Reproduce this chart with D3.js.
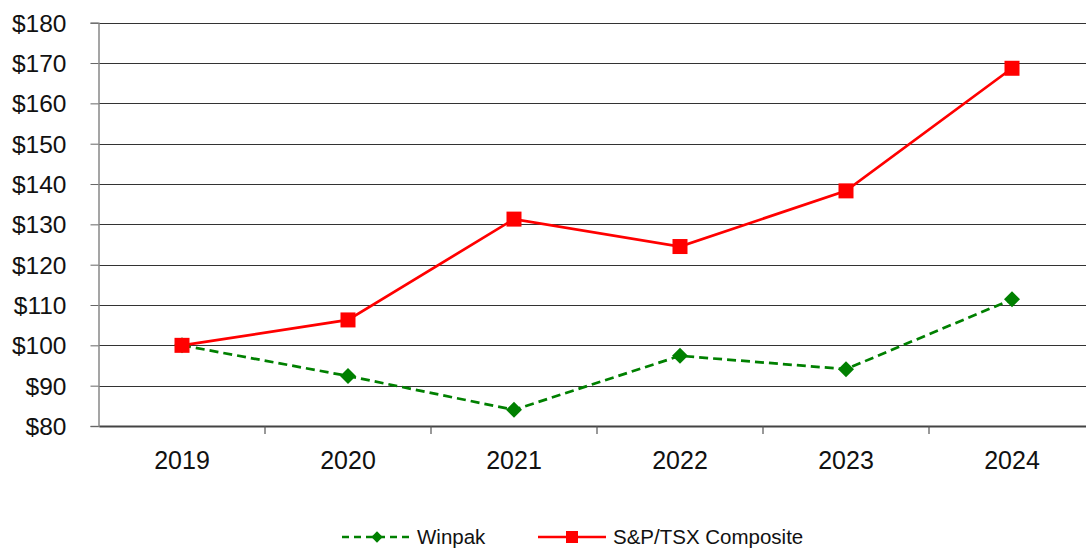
<!DOCTYPE html>
<html><head><meta charset="utf-8">
<script src="https://cdn.jsdelivr.net/npm/d3@7"></script>
<style>body{margin:0;background:#fff}svg{display:block;font-family:"Liberation Sans",Arial,sans-serif}</style>
</head><body><svg id="c" width="1086" height="548"></svg>
<script>
const years = ["2019","2020","2021","2022","2023","2024"];
const winpak = [100, 92.4, 84.0, 97.4, 94.1, 111.4];
const tsx = [100, 106.3, 131.3, 124.5, 138.3, 168.7];
const yTicks = [80,90,100,110,120,130,140,150,160,170,180];
const seriesNames = ["Winpak","S&P/TSX Composite"];

const svg = d3.select("#c");
const x = d3.scaleBand().domain(years).range([99, 1095]);
const y = d3.scaleLinear().domain([80,180]).range([426, 22.7]);

// gridlines
svg.append("g").selectAll("line").data(yTicks.slice(1)).join("line")
  .attr("x1", 99).attr("x2", 1086).attr("y1", d=>Math.round(y(d))+0.5).attr("y2", d=>Math.round(y(d))+0.5)
  .attr("stroke","#333").attr("stroke-width",1);

// y axis
const ya = svg.append("g").attr("transform","translate(98.5,0)")
  .call(d3.axisLeft(y).tickValues(yTicks).tickSize(8).tickFormat(d=>"$"+d));
ya.select(".domain").attr("stroke","#888").attr("stroke-width",1.5);
ya.selectAll(".tick line").attr("stroke","#666");
ya.selectAll(".tick text").attr("font-size",24.5).attr("fill","#111").attr("x",-32).attr("dy","0.35em");

// x axis
const xa = svg.append("g").attr("transform","translate(0,426)")
  .call(d3.axisBottom(x).tickSize(0));
xa.select(".domain").attr("stroke","#444").attr("stroke-width",2);
xa.selectAll(".tick text").attr("font-size",25).attr("fill","#111").attr("dy","0").attr("y",43);
svg.append("g").selectAll("line").data(years.slice(1)).join("line")
  .attr("x1",d=>x(d)).attr("x2",d=>x(d)).attr("y1",426).attr("y2",434)
  .attr("stroke","#555").attr("stroke-width",1.2);

const cx = d => x(d) + x.bandwidth()/2;
const line = d3.line().x((d,i)=>cx(years[i])).y(d=>y(d));

svg.append("path").datum(winpak).attr("d",line).attr("fill","none")
  .attr("stroke","#008000").attr("stroke-width",2.7).attr("stroke-dasharray","9,5");
svg.append("path").datum(tsx).attr("d",line).attr("fill","none")
  .attr("stroke","#ff0000").attr("stroke-width",2.7);

const diamond = d3.symbol().type(d3.symbolSquare).size(128);
svg.append("g").selectAll("path").data(winpak).join("path")
  .attr("d", diamond)
  .attr("transform",(d,i)=>`translate(${cx(years[i])},${y(d)}) rotate(45)`)
  .attr("fill","#008000");
svg.append("g").selectAll("rect").data(tsx).join("rect")
  .attr("x",(d,i)=>cx(years[i])-7.5).attr("y",d=>y(d)-7.5).attr("width",15).attr("height",15)
  .attr("fill","#ff0000");

// legend
const lg = svg.append("g");
lg.append("line").attr("x1",342).attr("x2",410).attr("y1",537).attr("y2",537)
  .attr("stroke","#008000").attr("stroke-width",2.5).attr("stroke-dasharray","7,5");
lg.append("path").attr("d",d3.symbol().type(d3.symbolSquare).size(64)).attr("transform","translate(377,537) rotate(45)").attr("fill","#008000");
lg.append("text").attr("x",417).attr("y",544).attr("font-size",20.5).attr("fill","#111").text(seriesNames[0]);
lg.append("line").attr("x1",538).attr("x2",606).attr("y1",537).attr("y2",537)
  .attr("stroke","#ff0000").attr("stroke-width",2.5);
lg.append("rect").attr("x",566).attr("y",531).attr("width",12).attr("height",12).attr("fill","#ff0000");
lg.append("text").attr("x",613).attr("y",544).attr("font-size",20.5).attr("fill","#111").text(seriesNames[1]);
</script></body></html>
